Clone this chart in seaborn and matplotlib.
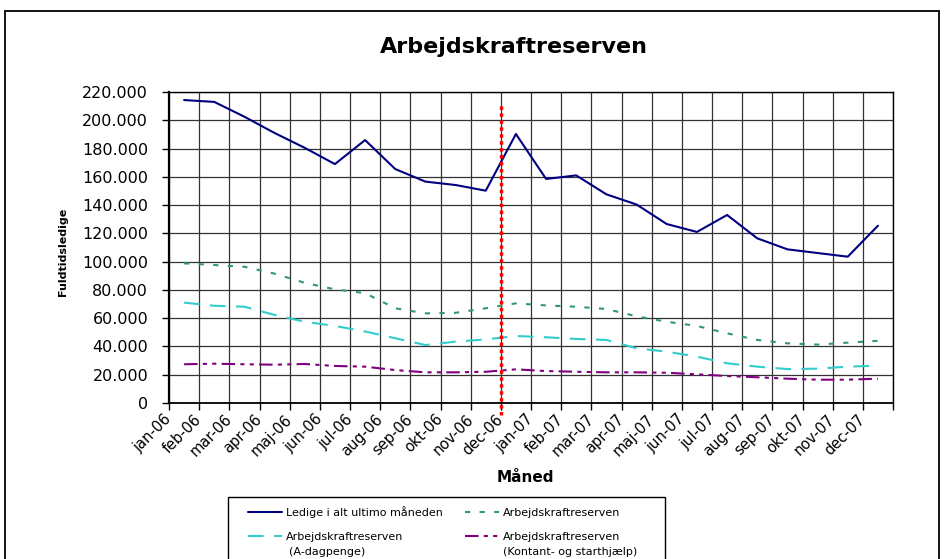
import numpy as np
import pandas as pd
import matplotlib
matplotlib.use("Agg")
import matplotlib.pyplot as plt
import seaborn as sns
from matplotlib.patches import Rectangle
from matplotlib.ticker import FuncFormatter

# Months (jan-06 .. dec-07)
months = ['jan-06', 'feb-06', 'mar-06', 'apr-06', 'maj-06', 'jun-06',
          'jul-06', 'aug-06', 'sep-06', 'okt-06', 'nov-06', 'dec-06',
          'jan-07', 'feb-07', 'mar-07', 'apr-07', 'maj-07', 'jun-07',
          'jul-07', 'aug-07', 'sep-07', 'okt-07', 'nov-07', 'dec-07']

# Series values
ledige = [214300, 213000, 202500, 191000, 180500, 169000,
          186000, 165500, 156600, 154200, 150200, 190300,
          158500, 161000, 147600, 140400, 126600, 121000,
          133000, 116500, 108700, 106100, 103500, 125400]
reserve_total = [98800, 97600, 96400, 91500, 85000, 80400,
                 77700, 67000, 63400, 63800, 67000, 70500,
                 69000, 68100, 66500, 61300, 57500, 54500,
                 49300, 44600, 42200, 41300, 42700, 44000]
reserve_dagpenge = [71000, 68800, 68100, 62300, 57500, 54500,
                    50600, 45800, 41000, 43400, 45000, 47400,
                    46500, 45300, 44600, 38700, 36300, 32800,
                    28100, 25700, 24000, 24300, 25700, 26400]
reserve_kontant = [27400, 27800, 27400, 27100, 27600, 26200,
                   25700, 23300, 21700, 21700, 22100, 23800,
                   22600, 22100, 21700, 21700, 21400, 20300,
                   19100, 18200, 17200, 16500, 16500, 17200]

labels = ['Ledige i alt ultimo måneden',
          'Arbejdskraftreserven',
          'Arbejdskraftreserven',
          'Arbejdskraftreserven']
sublabels = ['(A-dagpenge)', '(Kontant- og starthjælp)']

sns.set_style("white")
plt.rcParams['font.family'] = ['DejaVu Sans']
plt.rcParams['text.color'] = 'black'
plt.rcParams['axes.labelcolor'] = 'black'

W, H = 944, 559
fig = plt.figure(figsize=(W / 100, H / 100), dpi=100)
ax = fig.add_axes([169 / W, 1 - 403 / H, (893 - 169) / W, (403 - 92) / H])

x = np.arange(len(months))
series = [
    (ledige, '#000080', '-'),
    (reserve_total, '#339966', (0, (2.5, 4.5))),
    (reserve_dagpenge, '#33CCCC', (0, (7.5, 5))),
    (reserve_kontant, '#800080', (0, (6.5, 2.5, 2, 2.5, 2, 2.5))),
]
for (vals, col, ls), lab in zip(series, labels):
    sns.lineplot(x=x, y=vals, color=col, linestyle=ls, linewidth=1.5,
                 label=lab, ax=ax, legend=False)

ax.set_xlim(-0.5, len(months) - 0.5)
ax.set_ylim(0, 220000)
ax.set_yticks(np.arange(0, 220001, 20000))
ax.yaxis.set_major_formatter(FuncFormatter(lambda v, p: f"{int(v):,}".replace(',', '.')))
ax.set_xticks(np.arange(len(months) + 1) - 0.5)
ax.set_xticklabels(months + [''], rotation=45, ha='right', va='center',
                   rotation_mode='anchor')
ax.tick_params(axis='x', direction='out', length=5, width=1, pad=5,
               labelsize=10.5, bottom=True, colors='black')
ax.tick_params(axis='y', direction='out', length=5, width=1, pad=10,
               labelsize=11.5, left=True, colors='black')
ax.grid(True, color='#333333', linewidth=0.9)
for sp in ax.spines.values():
    sp.set_color('black')
    sp.set_linewidth(1.0)
ax.spines['left'].set_linewidth(1.6)
ax.spines['bottom'].set_linewidth(1.3)

# red dotted marker line between nov-06 and dec-06
ax.axvline(10.5, ymin=-0.04, ymax=0.96, color='#FF0000', linewidth=2.5,
           linestyle=(0, (1, 1)), clip_on=False, zorder=5)

ax.set_xlabel('')
ax.set_ylabel('')
fig.text(63 / W, 1 - 252 / H, 'Fuldtidsledige', rotation=90, ha='center',
         va='center', fontsize=8, fontweight='bold')
fig.text(525 / W, 1 - 478 / H, 'Måned', ha='center', va='center',
         fontsize=11, fontweight='bold')
fig.text(514 / W, 1 - 47 / H, 'Arbejdskraftreserven', ha='center',
         va='center', fontsize=16, fontweight='bold')

# outer chart border
fig.patches.append(Rectangle((5 / W, -0.1), 934 / W, 1.1 - 10.5 / H,
                             transform=fig.transFigure, fill=False,
                             edgecolor='black', linewidth=1.3))
# legend box
fig.patches.append(Rectangle((228 / W, -0.1), (665 - 228) / W, 0.1 + 1 - 497 / H,
                             transform=fig.transFigure, fill=False,
                             edgecolor='black', linewidth=1.0))

handles, labs = ax.get_legend_handles_labels()
order = [0, 2, 1, 3]
leg = fig.legend([handles[i] for i in order], [labs[i] for i in order],
                 ncol=2, loc='upper left',
                 bbox_to_anchor=(240 / W, 1 - 498 / H),
                 frameon=False, fontsize=8, handlelength=3.1,
                 handletextpad=0.3, columnspacing=2.0, labelspacing=1.3,
                 borderpad=0.2)
fig.text(289 / W, 1 - 552 / H, sublabels[0], ha='left', va='center', fontsize=8)
fig.text(503 / W, 1 - 552 / H, sublabels[1], ha='left', va='center', fontsize=8)

fig.savefig('out.png', dpi=100)
